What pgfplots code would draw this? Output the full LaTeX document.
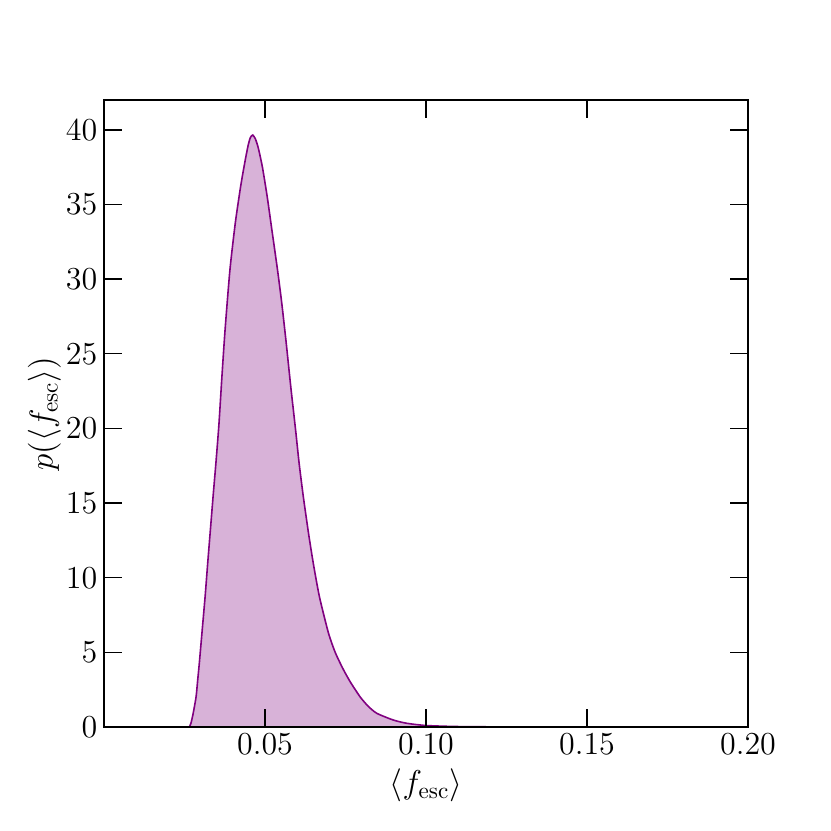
\RequirePackage{fix-cm}
\documentclass[border=0pt]{standalone}
\usepackage{pgfplots}
\pgfplotsset{compat=1.18}
\definecolor{lineC}{HTML}{800080}
\definecolor{fillC}{HTML}{D8B2D8}

\begin{document}
\begin{tikzpicture}
\begin{axis}[
  scale only axis,
  width=322pt, height=313.5pt,
  xmin=0, xmax=0.2, ymin=0, ymax=42,
  xtick={0.05,0.10,0.15,0.20},
  ytick={0,5,10,15,20,25,30,35,40},
  xticklabel style={/pgf/number format/.cd, fixed, fixed zerofill, precision=2},
  scaled x ticks=false,
  tick align=inside,
  major tick length=9pt,
  tick style={black, line width=0.7pt},
  axis line style={black, line width=0.8pt},
  ticklabel style={font=\fontsize{16}{19}\selectfont, inner sep=3.2pt},
  label style={font=\fontsize{16.5}{20}\selectfont},
  xlabel={$\langle f_{\mathrm{esc}}\rangle$},
  ylabel={$p(\langle f_{\mathrm{esc}}\rangle)$},
  xlabel style={at={(axis description cs:0.5,-0.093)}, anchor=center},
  ylabel style={at={(axis description cs:-0.0924,0.5)}, anchor=center},
  axis on top,
  clip=true,
]
\coordinate (sw) at (rel axis cs:0,0);
\coordinate (ne) at (rel axis cs:1,1);
\pgfplotstableread{
x y
0.0265 0
0.0270 0.25
0.0277 0.92
0.0286 2.03
0.0291 3.15
0.0296 4.27
0.0305 6.5
0.0314 8.73
0.0322 10.96
0.0330 13.1
0.0339 15.5
0.0348 17.8
0.0357 20.3
0.0366 23.4
0.0376 26.6
0.0391 30.6
0.0408 33.8
0.0425 36.3
0.0438 37.9
0.0448 39.0
0.0455 39.5
0.0462 39.65
0.0470 39.4
0.0479 38.8
0.0492 37.5
0.0507 35.5
0.0522 33.2
0.0539 30.6
0.0552 28.4
0.0565 25.9
0.0580 22.8
0.0595 19.9
0.0606 17.66
0.0619 15.43
0.0635 13.0
0.0650 10.96
0.0669 8.73
0.0697 6.3
0.0718 5.0
0.0741 3.95
0.0764 3.05
0.0795 2.03
0.0820 1.40
0.0847 0.92
0.0898 0.47
0.0940 0.25
0.1000 0.10
0.1100 0.03
0.1300 0.005
0.2000 0
}\curve
\addplot[fill=fillC, draw=none, smooth, tension=0.4] table {\curve} \closedcycle;
\addplot[draw=lineC, line width=0.8pt, smooth, tension=0.4] table {\curve};
\end{axis}
\path (sw) ++(-52pt,-52pt);
\path (ne) ++(41.5pt,50pt);
\end{tikzpicture}
\end{document}
